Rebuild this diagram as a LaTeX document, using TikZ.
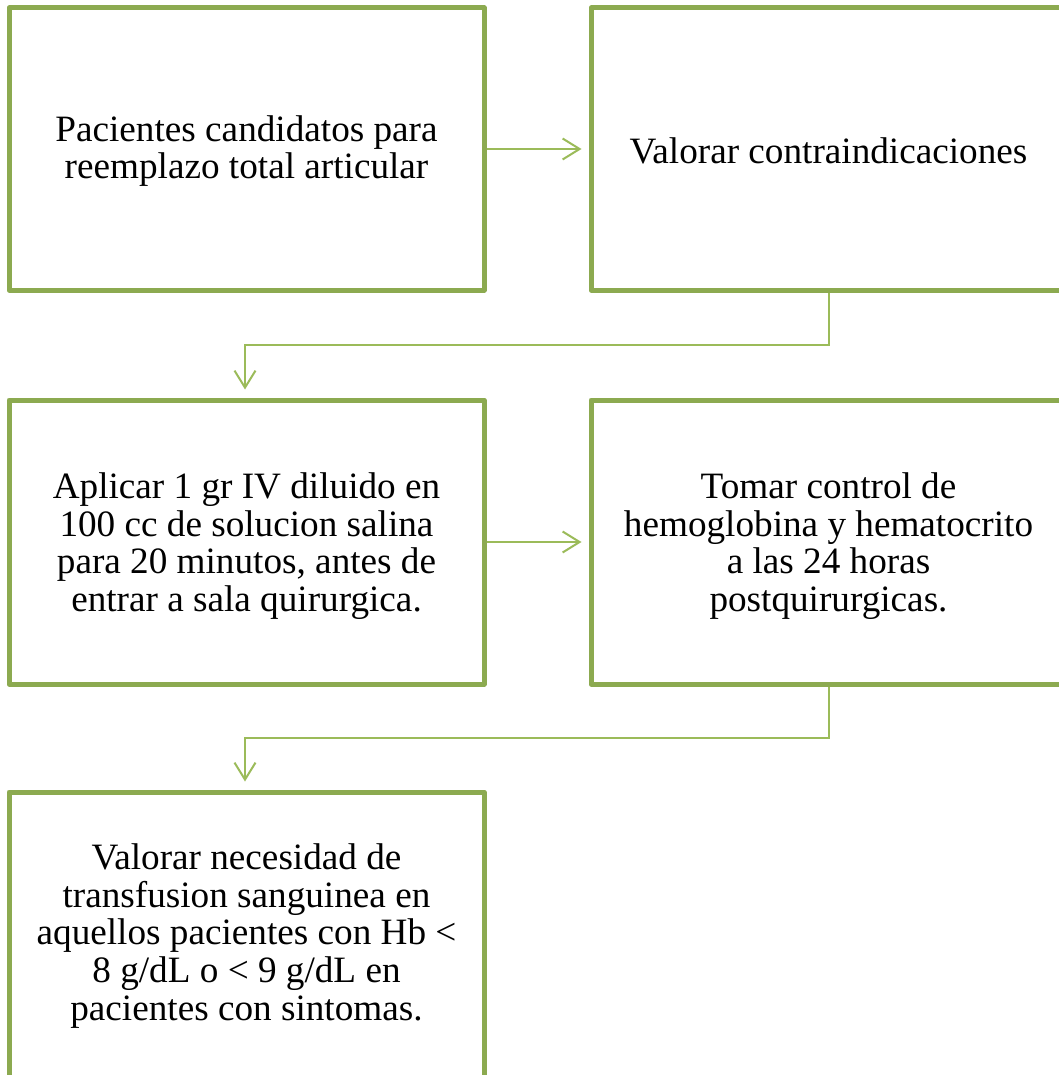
\documentclass[tikz,border=0pt]{standalone}
\usepackage{fontspec}
\setmainfont{Liberation Serif}
\usetikzlibrary{arrows.meta}
\definecolor{boxgreen}{RGB}{140,170,80}
\definecolor{arrgreen}{RGB}{155,187,89}
\tikzset{
  stepbox/.style={draw=boxgreen, line width=5pt, line join=round, minimum width=475pt, inner sep=0pt},
  steptext/.style={align=center, inner sep=0pt, font=\fontsize{37.2pt}{37.7pt}\selectfont},
  conn/.style={draw=arrgreen, line width=2pt,
    -{Straight Barb[length=17pt,width=21pt,line width=2pt]}}
}
\begin{document}
\begin{tikzpicture}[x=1pt,y=1pt]
\useasboundingbox (0,0) rectangle (1058,-1075);
\node[stepbox, minimum height=282pt] (b1) at (246.5,-149) {};
\node[stepbox, minimum height=282pt] (b2) at (828.5,-149) {};
\node[stepbox, minimum height=284pt] (b3) at (246.5,-542) {};
\node[stepbox, minimum height=284pt] (b4) at (828.5,-542) {};
\node[stepbox, minimum height=300pt] (b5) at (246.5,-942) {};
\node[steptext] (t1) at (246.5,-151) {Pacientes candidatos para\\reemplazo total articular};
\node[steptext] (t2) at (828.5,-151) {Valorar contraindicaciones};
\node[steptext] (t3) at (246.5,-546) {Aplicar 1 gr IV diluido en\\100 cc de solucion salina\\para 20 minutos, antes de\\entrar a sala quirurgica.};
\node[steptext] (t4) at (828.5,-546) {Tomar control de\\hemoglobina y hematocrito\\a las 24 horas\\postquirurgicas.};
\node[steptext] (t5) at (246.5,-936) {Valorar necesidad de\\transfusion sanguinea en\\aquellos pacientes con Hb <\\8 g/dL o < 9 g/dL en\\pacientes con sintomas.};
\draw[conn, shorten >=7pt] (b1.east) -- (b2.west);
\draw[conn, shorten >=7pt] (b3.east) -- (b4.west);
\draw[conn, shorten >=8pt] (b2.south) -- ++(0,-52) -| ([xshift=-1.5pt]b3.north);
\draw[conn, shorten >=8pt] (b4.south) -- ++(0,-51) -| ([xshift=-1.5pt]b5.north);
\end{tikzpicture}
\end{document}
